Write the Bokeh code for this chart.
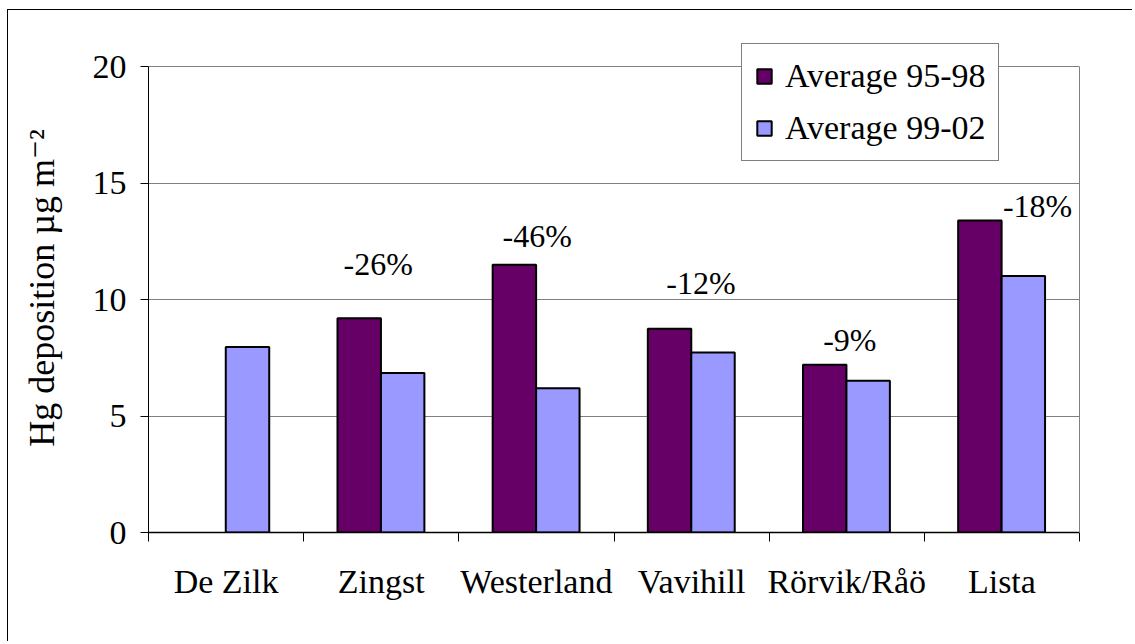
import numpy as np
from bokeh.plotting import figure
from bokeh.models import (ColumnDataSource, Range1d, FixedTicker, Legend, LegendItem,
                          LinearAxis)
from bokeh.transform import dodge
from bokeh.core.properties import value
from bokeh.embed import file_html
from bokeh.resources import INLINE

# ---- data ----
sites = ["De Zilk", "Zingst", "Westerland", "Vavihill", "Rörvik/Råö", "Lista"]
avg_95_98 = [np.nan, 9.2, 11.5, 8.75, 7.2, 13.4]
avg_99_02 = [7.97, 6.85, 6.2, 7.73, 6.52, 11.02]
changes = ["", "-26%", "-46%", "-12%", "-9%", "-18%"]
y_ticks = [0, 5, 10, 15, 20]

# label placement (layout only)
change_dx = [0.0, -0.02, 0.005, 0.06, 0.02, 0.23]
change_y = [0.0, 11.54, 12.74, 10.73, 8.26, 14.03]

FONT = "Liberation Serif, Tinos, Times New Roman, DejaVu Serif, serif"
PURPLE = "#660066"
BLUE = "#9999FF"

idx = list(range(len(sites)))
src = ColumnDataSource(dict(x=idx, a=avg_95_98, b=avg_99_02))
lab_src = ColumnDataSource(dict(
    x=[i + d for i, d in zip(idx[1:], change_dx[1:])],
    y=change_y[1:], t=changes[1:]))

p = figure(width=1125, height=632, output_backend="svg", toolbar_location=None,
           x_range=Range1d(-0.5, len(sites) - 0.5), y_range=Range1d(0, 21),
           min_border_left=140, min_border_right=54, min_border_top=33,
           min_border_bottom=110)
p.styles = {"margin-left": "7px", "margin-top": "9px",
            "border-left": "1px solid black", "border-top": "1px solid black"}

p.outline_line_color = None
p.xgrid.visible = False
p.ygrid.grid_line_color = "#808080"
p.ygrid.grid_line_width = 1
p.ygrid.ticker = FixedTicker(ticks=y_ticks)

w = 0.28
r1 = p.vbar(x=dodge("x", -0.142, range=p.x_range), top="a", width=w, source=src,
            fill_color=PURPLE, line_color="black", line_width=2)
r2 = p.vbar(x=dodge("x", 0.138, range=p.x_range), top="b", width=w, source=src,
            fill_color=BLUE, line_color="black", line_width=2)

p.text(x="x", y="y", text="t", source=lab_src, text_align="center",
       text_baseline="middle", text_font=value(FONT), text_font_size="32px",
       text_color="black")

# y axis
ya = p.yaxis[0]
ya.ticker = FixedTicker(ticks=y_ticks)
ya.bounds = (0, 20)
ya.axis_label = "Hg deposition µg m⁻²"
ya.axis_label_text_font = FONT
ya.axis_label_text_font_size = "36px"
ya.axis_label_text_font_style = "normal"
ya.axis_label_text_color = "black"
ya.axis_label_standoff = 28
ya.major_label_text_font = FONT
ya.major_label_text_font_size = "34px"
ya.major_label_text_color = "black"
ya.major_label_standoff = 14
ya.major_tick_out = 8
ya.major_tick_in = 0
ya.minor_tick_line_color = None
ya.axis_line_color = "black"
ya.major_tick_line_color = "black"

# right border of plot area (0..20)
ra = LinearAxis(bounds=(0, 20), ticker=FixedTicker(ticks=[]),
                major_label_text_font_size="0px", axis_line_color="#808080",
                major_tick_line_color=None, minor_tick_line_color=None)
p.add_layout(ra, "right")

# x axis
xa = p.xaxis[0]
xa.ticker = FixedTicker(ticks=idx, minor_ticks=[i - 0.5 for i in range(len(sites) + 1)])
xa.major_label_overrides = {i: s for i, s in zip(idx, sites)}
xa.major_tick_line_color = None
xa.major_tick_out = 9
xa.minor_tick_out = 9
xa.minor_tick_in = 0
xa.minor_tick_line_color = "black"
xa.axis_line_color = "black"
xa.axis_line_width = 1.5
xa.major_label_text_font = FONT
xa.major_label_text_font_size = "34px"
xa.major_label_text_color = "black"
xa.major_label_standoff = 21

legend = Legend(items=[LegendItem(label="Average 95-98", renderers=[r1]),
                       LegendItem(label="Average 99-02", renderers=[r2])],
                location=(593, 371))
legend.label_text_font = FONT
legend.label_text_font_size = "34px"
legend.label_text_color = "black"
legend.glyph_width = 18
legend.glyph_height = 18
legend.label_height = 38
legend.label_standoff = 12
legend.padding = 13
legend.spacing = 14
legend.border_line_color = "black"
legend.border_line_width = 1
legend.background_fill_color = "white"
legend.background_fill_alpha = 1
p.add_layout(legend, "center")

open("out.html", "w").write(file_html(p, INLINE))
